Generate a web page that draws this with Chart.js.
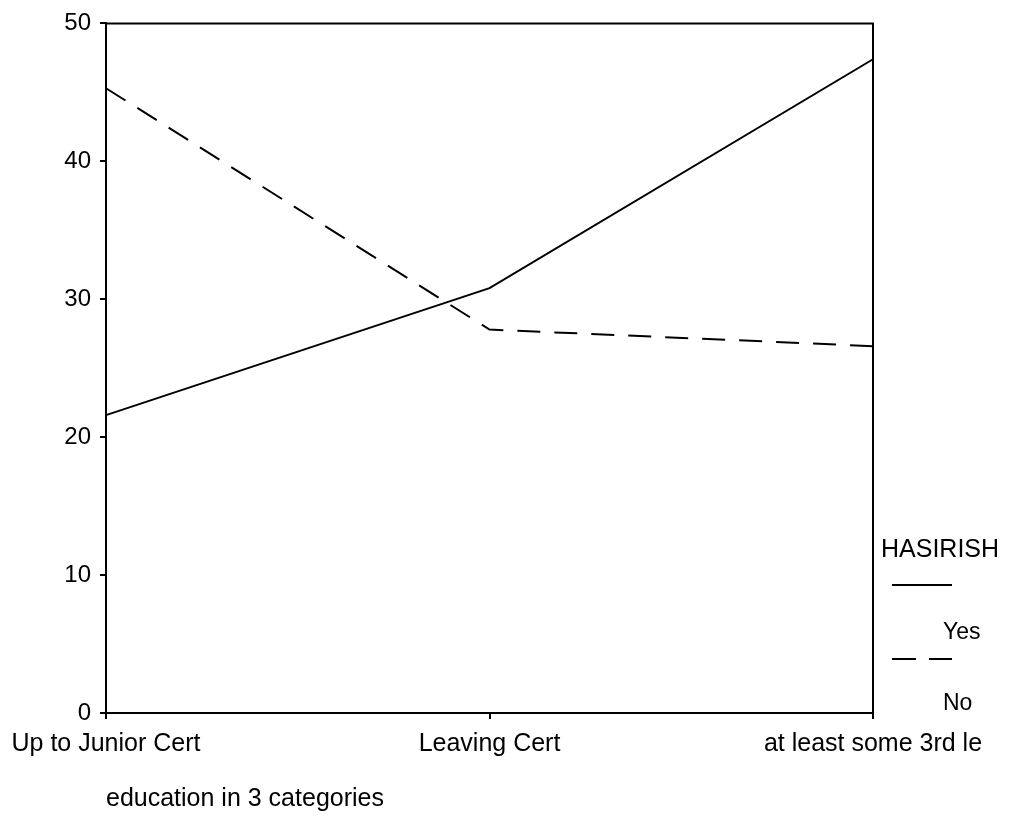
<!DOCTYPE html>
<html>
<head>
<meta charset="utf-8">
<script src="https://cdn.jsdelivr.net/npm/chart.js@4.4.0/dist/chart.umd.min.js"></script>
<style>
  body { margin: 0; background: #fff; }
  canvas { display: block; }
</style>
</head>
<body>
<canvas id="eduChart" width="1032" height="836"></canvas>
<script>
// data
const categories = ['Up to Junior Cert', 'Leaving Cert', 'at least some 3rd le'];
const yesValues = [21.6, 30.8, 47.4];
const noValues = [45.3, 27.8, 26.6];
const yTicks = [0, 10, 20, 30, 40, 50];
const seriesNames = ['Yes', 'No'];
const legendTitle = 'HASIRISH';
const xTitle = 'education in 3 categories';

const FONT = '"Liberation Sans", Arial, sans-serif';
const dash = [23, 14];

//Frame on top/right plus the little legend on the right
const framePlugin = {
  id: 'frame',
  afterDraw(chart) {
    const ctx = chart.ctx;
    const a = chart.chartArea;
    ctx.save();
    ctx.strokeStyle = '#000';
    ctx.lineWidth = 2;
    ctx.beginPath();
    ctx.moveTo(a.left - 1, a.top);
    ctx.lineTo(a.right, a.top);
    ctx.lineTo(a.right, a.bottom);
    ctx.stroke();

    // legend
    let lx = a.right + 19;
    ctx.fillStyle = '#000';
    ctx.font = '25px ' + FONT;
    ctx.textBaseline = 'middle';
    ctx.textAlign = 'left';
    ctx.fillText(legendTitle, a.right + 8, 550);

    ctx.lineWidth = 2;
    ctx.beginPath();
    ctx.moveTo(lx, 585);
    ctx.lineTo(lx + 60, 585);
    ctx.stroke();

    ctx.setLineDash([24, 13]);
    ctx.beginPath();
    ctx.moveTo(lx, 659);
    ctx.lineTo(lx + 60, 659);
    ctx.stroke();
    ctx.setLineDash([]);

    ctx.font = '23px ' + FONT;
    ctx.fillText(seriesNames[0], lx + 51, 633);
    ctx.fillText(seriesNames[1], lx + 51, 704);
    ctx.restore();
  }
};

var ctx = document.getElementById('eduChart').getContext('2d');
var chart = new Chart(ctx, {
  type: 'line',
  data: {
    labels: categories,
    datasets: [{
      label: seriesNames[0],
      data: yesValues,
      borderColor: '#000',
      borderWidth: 2,
      pointRadius: 0,
      fill: false,
      tension: 0
    }, {
      label: seriesNames[1],
      data: noValues,
      borderColor: '#000',
      borderWidth: 2,
      borderDash: dash,
      pointRadius: 0,
      fill: false,
      tension: 0
    }]
  },
  options: {
    responsive: false,
    animation: false,
    layout: { padding: { left: 0, top: 17, right: 159, bottom: 0 } },
    plugins: {
      legend: { display: false },
      tooltip: { enabled: false }
    },
    scales: {
      x: {
        type: 'category',
        offset: false,
        afterFit: function(scale) { scale.height = 123; },
        grid: { drawOnChartArea: false, drawTicks: true, tickLength: 6, color: '#000', lineWidth: 2 },
        border: { display: true, color: '#000', width: 2 },
        ticks: { color: '#000', font: { family: FONT, size: 25 }, padding: 10, maxRotation: 0, autoSkip: false },
        title: {
          display: true,
          text: xTitle,
          align: 'start',
          color: '#000',
          font: { family: FONT, size: 25 },
          padding: { top: 0, bottom: 22 }
        }
      },
      y: {
        min: 0,
        max: 50,
        afterFit: function(scale) { scale.width = 106; },
        afterBuildTicks: function(scale) { scale.ticks = yTicks.map(v => ({ value: v })); },
        grid: { drawOnChartArea: false, drawTicks: true, tickLength: 6, color: '#000', lineWidth: 2 },
        border: { display: true, color: '#000', width: 2 },
        ticks: { color: '#000', font: { family: FONT, size: 24 }, padding: 9 }
      }
    }
  },
  plugins: [framePlugin]
});
</script>
</body>
</html>
